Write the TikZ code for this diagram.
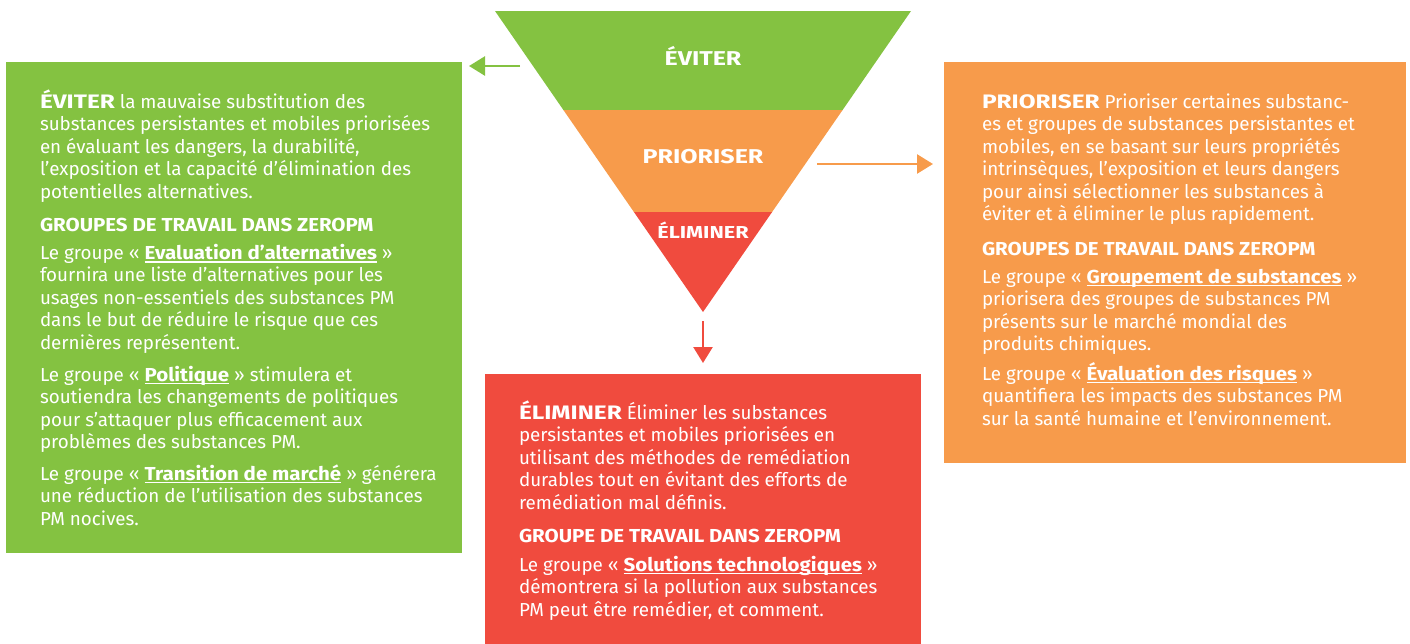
\documentclass[tikz,border=0pt]{standalone}
\usepackage{fontspec}
\setmainfont{Fira Sans}[BoldFeatures={FakeStretch=1.09}]
\newfontfamily\leadfont{Fira Sans}[FakeStretch=1.25]
\usetikzlibrary{arrows.meta}
\definecolor{cgreen}{RGB}{132,194,65}
\definecolor{corange}{RGB}{247,155,75}
\definecolor{cred}{RGB}{240,75,62}
\newsavebox{\grpbox}
\newcommand{\grp}[1]{\sbox\grpbox{\textbf{#1}}\rlap{\rule[-3.2pt]{\wd\grpbox}{1.2pt}}\usebox\grpbox}
\newcommand{\lead}[1]{{\leadfont\bfseries\fontsize{19.5}{22.5}\selectfont #1}}
\tikzset{
  boxbg/.style={anchor=north west, inner sep=0pt, outer sep=0pt},
  para/.style={anchor=base west, inner sep=0pt, outer sep=0pt, text=white,
    font=\fontsize{18.8}{22.5}\selectfont},
  tlabel/.style={anchor=base, inner sep=0pt, text=white,
    font=\leadfont\bfseries\fontsize{20}{24}\selectfont},
  conn/.style={line width=2.5pt, -{Triangle[length=16pt,width=19pt]}},
}
\begin{document}
\begin{tikzpicture}[x=1pt,y=-1pt]
\useasboundingbox (0,0) rectangle (1410,643);
% triangle
\coordinate (tl) at (495,11);
\coordinate (tr) at (911,11);
\coordinate (apex) at (703,312);
\fill[cgreen] (tl) -- (tr) -- (842.6,110) -- (563.4,110) -- cycle;
\fill[corange] (563.4,110) -- (842.6,110) -- (772.1,212) -- (633.9,212) -- cycle;
\fill[cred] (633.9,212) -- (772.1,212) -- (apex) -- cycle;
\node[tlabel] (lev) at (703,65) {ÉVITER};
\node[tlabel] (lpr) at (703,163) {PRIORISER};
\node[tlabel, font=\leadfont\bfseries\fontsize{17.3}{20}\selectfont] (lel) at (703,238) {ÉLIMINER};
% boxes
\node[boxbg, fill=cgreen, minimum width=456pt, minimum height=491pt] (gbox) at (6,62) {};
\node[boxbg, fill=corange, minimum width=462pt, minimum height=401pt] (obox) at (944,62) {};
\node[boxbg, fill=cred, minimum width=436pt, minimum height=270pt] (rbox) at (485,374) {};
% connectors
\coordinate (gs) at (520,66);
\coordinate (os) at (817,164);
\coordinate (rs) at (703,321);
\draw[conn, cgreen, shorten >=7pt] (gs) -- (gbox.east |- gs);
\draw[conn, corange, shorten >=11pt] (os) -- (obox.west |- os);
\draw[conn, cred, shorten >=11pt] (rs) -- (rbox.north -| rs);
% green text
\node[para] (g1) at (40,108) {\parbox[t]{420pt}{\raggedright
\lead{ÉVITER} la mauvaise substitution des\\
substances persistantes et mobiles priorisées\\
en évaluant les dangers, la durabilité,\\
l’exposition et la capacité d’élimination des\\
potentielles alternatives.}};
\node[para] (g2) at (40,231) {\textbf{GROUPES DE TRAVAIL DANS ZEROPM}};
\node[para] (g3) at (40,259.3) {\parbox[t]{420pt}{\raggedright
Le groupe « \grp{Evaluation d’alternatives} »\\
fournira une liste d’alternatives pour les\\
usages non-essentiels des substances PM\\
dans le but de réduire le risque que ces\\
dernières représentent.}};
\node[para] (g4) at (40,381) {\parbox[t]{420pt}{\raggedright
Le groupe « \grp{Politique} » stimulera et\\
soutiendra les changements de politiques\\
pour s’attaquer plus efficacement aux\\
problèmes des substances PM.}};
\node[para] (g5) at (40,480) {\parbox[t]{420pt}{\raggedright
Le groupe « \grp{Transition de marché} » générera\\
une réduction de l’utilisation des substances\\
PM nocives.}};
% orange text
\node[para] (o1) at (982,108) {\parbox[t]{420pt}{\raggedright
\lead{PRIORISER} Prioriser certaines substanc-\\
es et groupes de substances persistantes et\\
mobiles, en se basant sur leurs propriétés\\
intrinsèques, l’exposition et leurs dangers\\
pour ainsi sélectionner les substances à\\
éviter et à éliminer le plus rapidement.}};
\node[para] (o2) at (982,255) {\textbf{GROUPES DE TRAVAIL DANS ZEROPM}};
\node[para] (o3) at (982,283) {\parbox[t]{420pt}{\raggedright
Le groupe « \grp{Groupement de substances} »\\
priorisera des groupes de substances PM\\
présents sur le marché mondial des\\
produits chimiques.}};
\node[para] (o4) at (982,380) {\parbox[t]{420pt}{\raggedright
Le groupe « \grp{Évaluation des risques} »\\
quantifiera les impacts des substances PM\\
sur la santé humaine et l’environnement.}};
% red text
\node[para] (r1) at (519,419) {\parbox[t]{400pt}{\raggedright
\lead{ÉLIMINER} Éliminer les substances\\
persistantes et mobiles priorisées en\\
utilisant des méthodes de remédiation\\
durables tout en évitant des efforts de\\
remédiation mal définis.}};
\node[para] (r2) at (519,542) {\textbf{GROUPE DE TRAVAIL DANS ZEROPM}};
\node[para] (r3) at (519,571) {\parbox[t]{400pt}{\raggedright
Le groupe « \grp{Solutions technologiques} »\\
démontrera si la pollution aux substances\\
PM peut être remédier, et comment.}};
\end{tikzpicture}
\end{document}
